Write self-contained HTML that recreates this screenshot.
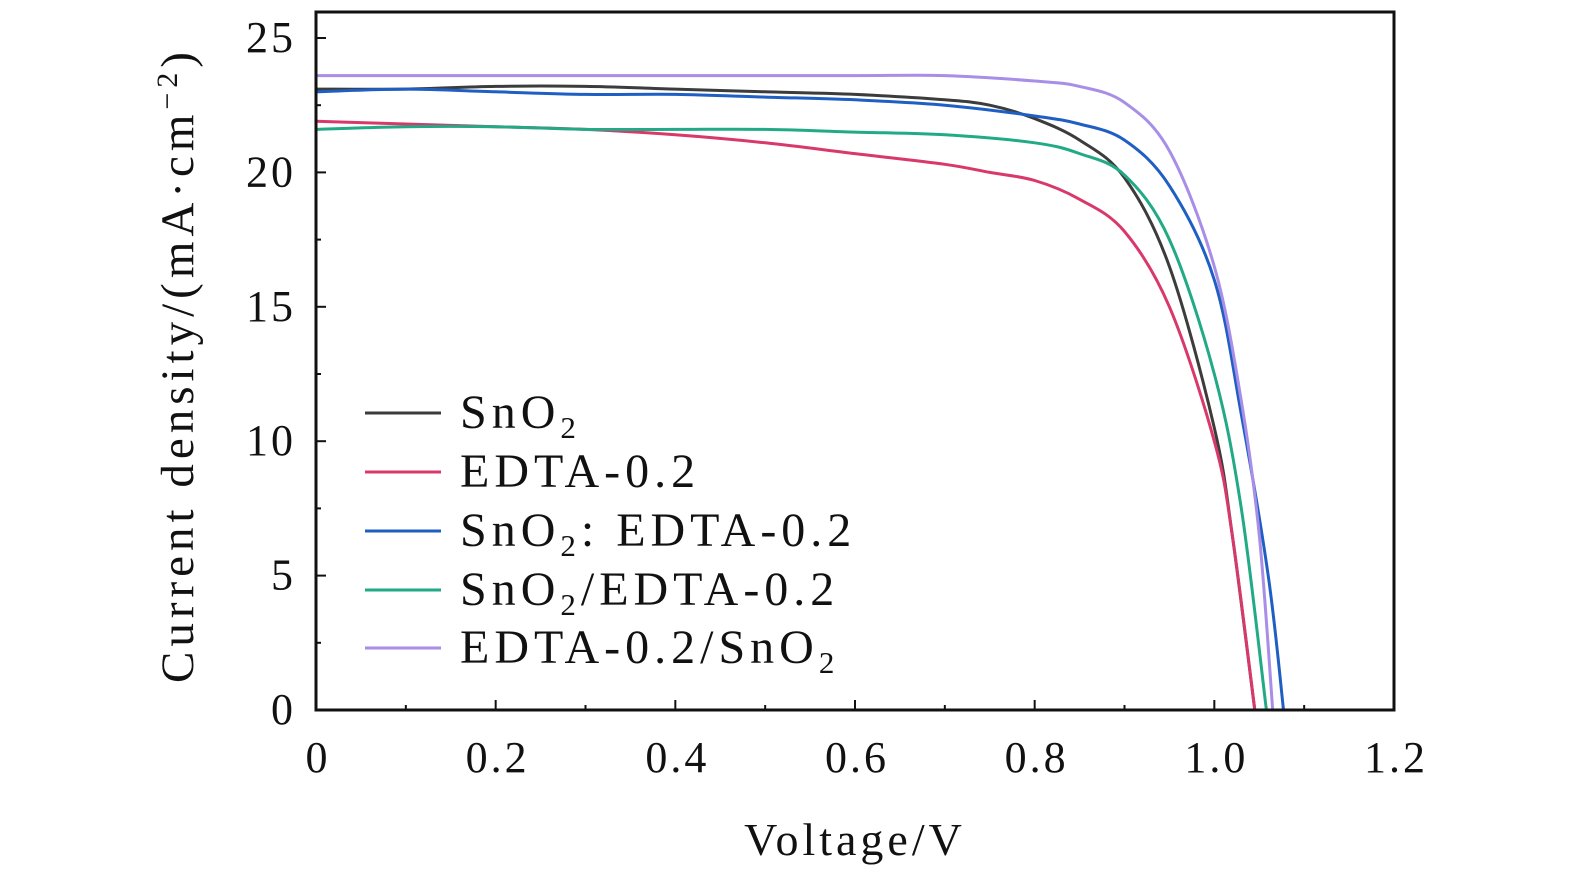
<!DOCTYPE html>
<html><head><meta charset="utf-8"><style>
body{margin:0;background:#fff;width:1575px;height:880px;overflow:hidden}
svg text{font-family:"Liberation Serif",serif;fill:#111}
</style></head><body>
<svg id="chart" width="1575" height="880" viewBox="0 0 1575 880" xmlns="http://www.w3.org/2000/svg"></svg>
<script>
const xTicks=[0,0.2,0.4,0.6,0.8,1.0,1.2];
const xTickLabels=["0","0.2","0.4","0.6","0.8","1.0","1.2"];
const yTicks=[0,5,10,15,20,25];
const yTickLabels=["0","5","10","15","20","25"];
const seriesNames=["SnO2","EDTA-0.2","SnO2: EDTA-0.2","SnO2/EDTA-0.2","EDTA-0.2/SnO2"];
const seriesColors=["#3c3c3c","#d8386a","#1f5fc4","#22aa86","#a88ee6"];
const vSnO2=[0,0.1,0.2,0.3,0.4,0.5,0.6,0.7,0.75,0.8,0.85,0.9,0.95,1.0,1.02,1.045];
const jSnO2=[23.1,23.1,23.2,23.2,23.1,23.0,22.9,22.7,22.5,22.0,21.2,19.8,16.5,10.5,6.5,0];
const vEDTA=[0,0.1,0.2,0.3,0.4,0.5,0.6,0.7,0.75,0.8,0.85,0.9,0.95,1.0,1.02,1.045];
const jEDTA=[21.9,21.8,21.7,21.6,21.4,21.1,20.7,20.3,20.0,19.7,19.0,17.8,15.0,10.0,6.5,0];
const vMix=[0,0.1,0.2,0.3,0.4,0.5,0.6,0.7,0.8,0.85,0.9,0.95,1.0,1.03,1.06,1.077];
const jMix=[23.0,23.1,23.0,22.9,22.9,22.8,22.7,22.5,22.1,21.8,21.2,19.5,16.0,11.0,5.0,0];
const vSE=[0,0.1,0.2,0.3,0.4,0.5,0.6,0.7,0.8,0.85,0.9,0.95,1.0,1.03,1.058];
const jSE=[21.6,21.7,21.7,21.6,21.6,21.6,21.5,21.4,21.1,20.7,19.9,17.5,12.5,7.5,0];
const vES=[0,0.2,0.4,0.6,0.7,0.8,0.85,0.9,0.95,1.0,1.03,1.05,1.065];
const jES=[23.6,23.6,23.6,23.6,23.6,23.4,23.2,22.6,20.8,16.5,11.5,6.5,0];
const allV=[vSnO2,vEDTA,vMix,vSE,vES];
const allJ=[jSnO2,jEDTA,jMix,jSE,jES];

const NS="http://www.w3.org/2000/svg";
const svg=document.getElementById('chart');
const L=316,R=1394,T=12,B=710;
const sx=v=>L+v/1.2*(R-L);
const sy=j=>B-j/25*(B-38);
function mk(t,a,p){const e=document.createElementNS(NS,t);for(const k in a)e.setAttribute(k,a[k]);(p||svg).appendChild(e);return e;}
function smooth(pts){
  let d='M'+pts[0][0].toFixed(1)+','+pts[0][1].toFixed(1);
  for(let i=0;i<pts.length-1;i++){
    const p0=pts[Math.max(i-1,0)],p1=pts[i],p2=pts[i+1],p3=pts[Math.min(i+2,pts.length-1)];
    const c1=[p1[0]+(p2[0]-p0[0])/6,p1[1]+(p2[1]-p0[1])/6];
    const c2=[p2[0]-(p3[0]-p1[0])/6,p2[1]-(p3[1]-p1[1])/6];
    d+=' C'+c1.map(n=>n.toFixed(1)).join(',')+' '+c2.map(n=>n.toFixed(1)).join(',')+' '+p2.map(n=>n.toFixed(1)).join(',');
  }
  return d;
}
for(let s=0;s<5;s++){
  const pts=allV[s].map((v,i)=>[sx(v),sy(allJ[s][i])]);
  const p=mk('path',{d:smooth(pts),fill:'none',stroke:seriesColors[s],'stroke-width':3,'stroke-linejoin':'round'});
  
  
}
const fr=mk('rect',{x:L,y:T,width:R-L,height:B-T,fill:'none',stroke:'#111','stroke-width':3});


const TF={'font-size':44,'letter-spacing':3};
for(let i=0;i<xTicks.length;i++){
  const x=sx(xTicks[i]);
  mk('line',{x1:x,x2:x,y1:B,y2:B-10,stroke:'#111','stroke-width':2});
  const t=mk('text',Object.assign({x:x+2,y:772,'text-anchor':'middle'},TF));t.textContent=xTickLabels[i];
  
  
  if(i<xTicks.length-1){const xm=sx(xTicks[i]+0.1);mk('line',{x1:xm,x2:xm,y1:B,y2:B-5,stroke:'#111','stroke-width':2});}
}
for(let i=0;i<yTicks.length;i++){
  const y=sy(yTicks[i]);
  mk('line',{x1:L,x2:L+10,y1:y,y2:y,stroke:'#111','stroke-width':2});
  const t=mk('text',Object.assign({x:296,y:y+14,'text-anchor':'end'},TF));t.textContent=yTickLabels[i];
  
  
  const ym=sy(yTicks[i]+2.5);if(ym>T)mk('line',{x1:L,x2:L+5,y1:ym,y2:ym,stroke:'#111','stroke-width':2});
}
const xt=mk('text',{x:855,y:855,'font-size':46,'letter-spacing':4,'text-anchor':'middle'});xt.textContent='Voltage/V';


const yt=mk('text',{x:0,y:0,'font-size':47,'letter-spacing':5,'text-anchor':'middle',transform:'translate(193,365) rotate(-90)'});
yt.innerHTML='Current density/(mA·cm<tspan font-size="30" dy="-16">−2</tspan><tspan dy="16">)</tspan>';


const legendLabels=['SnO<tspan font-size="31" dy="10">2</tspan>','EDTA-0.2','SnO<tspan font-size="31" dy="10">2</tspan><tspan dy="-10">: EDTA-0.2</tspan>','SnO<tspan font-size="31" dy="10">2</tspan><tspan dy="-10">/EDTA-0.2</tspan>','EDTA-0.2/SnO<tspan font-size="31" dy="10">2</tspan>'];
const legY=[413,472,531,590,648];
for(let s=0;s<5;s++){
  const g=mk('g',{});
  
  
  mk('line',{x1:365,x2:441,y1:legY[s],y2:legY[s],stroke:seriesColors[s],'stroke-width':3},g);
  const t=mk('text',{x:460,y:legY[s]+15,'font-size':48,'letter-spacing':5},g);t.innerHTML=legendLabels[s];
}
</script>
</body></html>
